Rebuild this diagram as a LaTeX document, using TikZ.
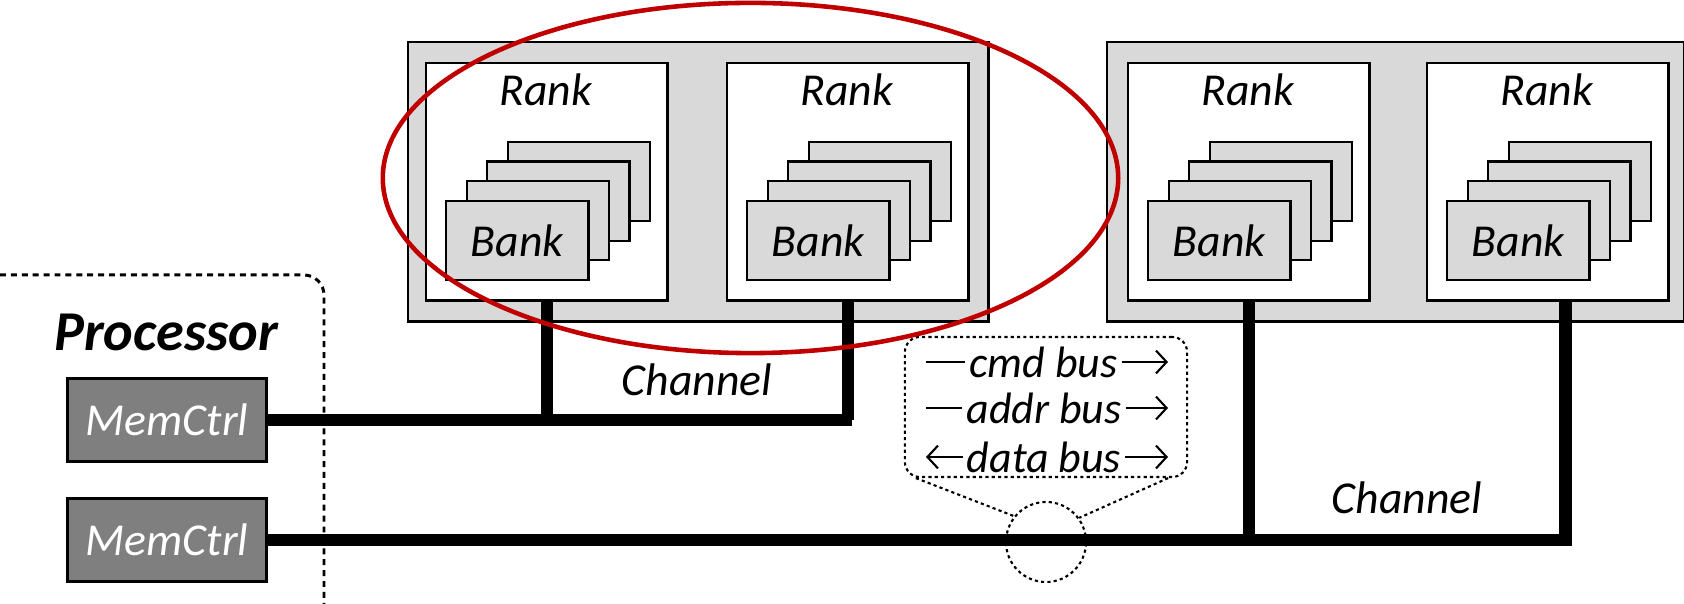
\documentclass[tikz,border=0pt]{standalone}
\usepackage{fontspec}
\setmainfont{Carlito}
\usetikzlibrary{arrows.meta,shapes.geometric}
\definecolor{boxgray}{HTML}{D9D9D9}
\definecolor{ctrlgray}{HTML}{7F7F7F}
\definecolor{hlred}{HTML}{C00000}
\newcommand{\lblfont}{\fontsize{13pt}{15pt}\selectfont\itshape}
\newcommand{\busfont}{\fontsize{12.5pt}{14pt}\selectfont\itshape}
\tikzset{
  module/.style={draw, line width=0.7pt, fill=boxgray, anchor=north west, inner sep=0pt, minimum height=2.79cm},
  rankbox/.style={draw, line width=0.7pt, fill=white, anchor=north west, inner sep=0pt, minimum width=2.41cm, minimum height=2.37cm},
  bankbox/.style={draw, line width=0.7pt, fill=boxgray, anchor=north west, inner sep=0pt, minimum width=1.42cm, minimum height=0.79cm, font=\lblfont},
  lbl/.style={font=\lblfont, inner sep=0pt},
  ctrl/.style={draw, line width=0.7pt, fill=ctrlgray, text=white, inner sep=0pt, minimum width=1.99cm, minimum height=0.83cm, font=\lblfont},
  busline/.style={line width=3.5pt},
  procline/.style={line width=0.85pt, dash pattern=on 1.7pt off 1.4pt, rounded corners=0.2cm},
  dots/.style={line width=0.6pt, dash pattern=on 0.9pt off 0.9pt},
  bustxt/.style={font=\busfont, inner sep=1pt},
  busarrow/.style={line width=0.6pt},
  tip/.style={-{Straight Barb[length=3pt,width=6.5pt]}},
  hl/.style={draw=hlred, line width=1.3pt, ellipse, inner sep=0pt}
}
\newcommand{\rankblk}[2]{%
  \node[rankbox] (#1) at (#2,62) {};
  \node[lbl] (#1t) at (#2+120.5,90) {Rank};
  \node[bankbox] (#1b3) at (#2+81.5,141) {};
  \node[bankbox] (#1b2) at (#2+61,160.5) {};
  \node[bankbox] (#1b1) at (#2+40.5,180) {};
  \node[bankbox] (#1b0) at (#2+20,200) {Bank};
}
\begin{document}
\begin{tikzpicture}[x=0.01cm,y=-0.01cm]
\useasboundingbox (0,0) rectangle (1684,604);
% processor boundary
\coordinate (pstart) at (0,275);
\coordinate (pend) at (324,604);
\draw[procline] (pstart) -| (pend);
\node[font=\fontsize{16pt}{19pt}\selectfont\bfseries\itshape, inner sep=0pt] (proc) at (166,332) {Processor};
% modules
\node[module, minimum width=5.8cm] (mod1) at (407,41) {};
\node[module, minimum width=5.77cm] (mod2) at (1106,41) {};
\rankblk{r1}{425}
\rankblk{r2}{726}
\rankblk{r3}{1127}
\rankblk{r4}{1426}
% memory controllers
\node[ctrl] (mc1) at (167,420) {MemCtrl};
\node[ctrl] (mc2) at (167,540) {MemCtrl};
% channel 1
\coordinate (c1end) at (852,420);
\draw[busline] (r1.south) -- (r1.south |- c1end);
\draw[busline] (r2.south) -- (r2.south |- c1end);
\draw[busline] (mc1.east) -- (c1end);
\node[lbl] (ch1) at (697,380) {Channel};
% bus callout
\node[draw, dots, rounded corners=0.15cm, minimum width=2.82cm, minimum height=1.4cm, inner sep=0pt] (callout) at (1046,407) {};
\node[bustxt] (cmd) at (1043.5,362) {cmd bus};
\node[bustxt] (addr) at (1044,408) {addr bus};
\node[bustxt] (data) at (1044,457) {data bus};
\coordinate (cmdL) at (926,362); \coordinate (cmdR) at (1168,362);
\coordinate (addrL) at (926,408); \coordinate (addrR) at (1168,408);
\coordinate (dataL) at (926,457); \coordinate (dataR) at (1168,457);
\draw[busarrow] (cmdL) -- (cmd.west);
\draw[busarrow, tip] (cmd.east) -- (cmdR);
\draw[busarrow] (addrL) -- (addr.west);
\draw[busarrow, tip] (addr.east) -- (addrR);
\draw[busarrow, tip] (data.west) -- (dataL);
\draw[busarrow, tip] (data.east) -- (dataR);
\node[draw, dots, circle, minimum size=0.8cm, inner sep=0pt] (tap) at (1046,542) {};
\draw[dots] ([xshift=0.12cm]callout.south west) -- (tap.141);
\draw[dots] ([xshift=-0.2cm]callout.south east) -- (tap.36);
% channel 2
\coordinate (c2end) at (1572,540);
\coordinate (r4tap) at (1565.5,299);
\draw[busline] (r3.south) -- (r3.south |- c2end);
\draw[busline] (r4tap) -- (r4tap |- c2end);
\draw[busline] (mc2.east) -- (c2end);
\node[lbl] (ch2) at (1407,498) {Channel};
% highlight
\node[hl, minimum width=7.35cm, minimum height=3.5cm] (hlring) at (750.5,178) {};
\end{tikzpicture}
\end{document}
